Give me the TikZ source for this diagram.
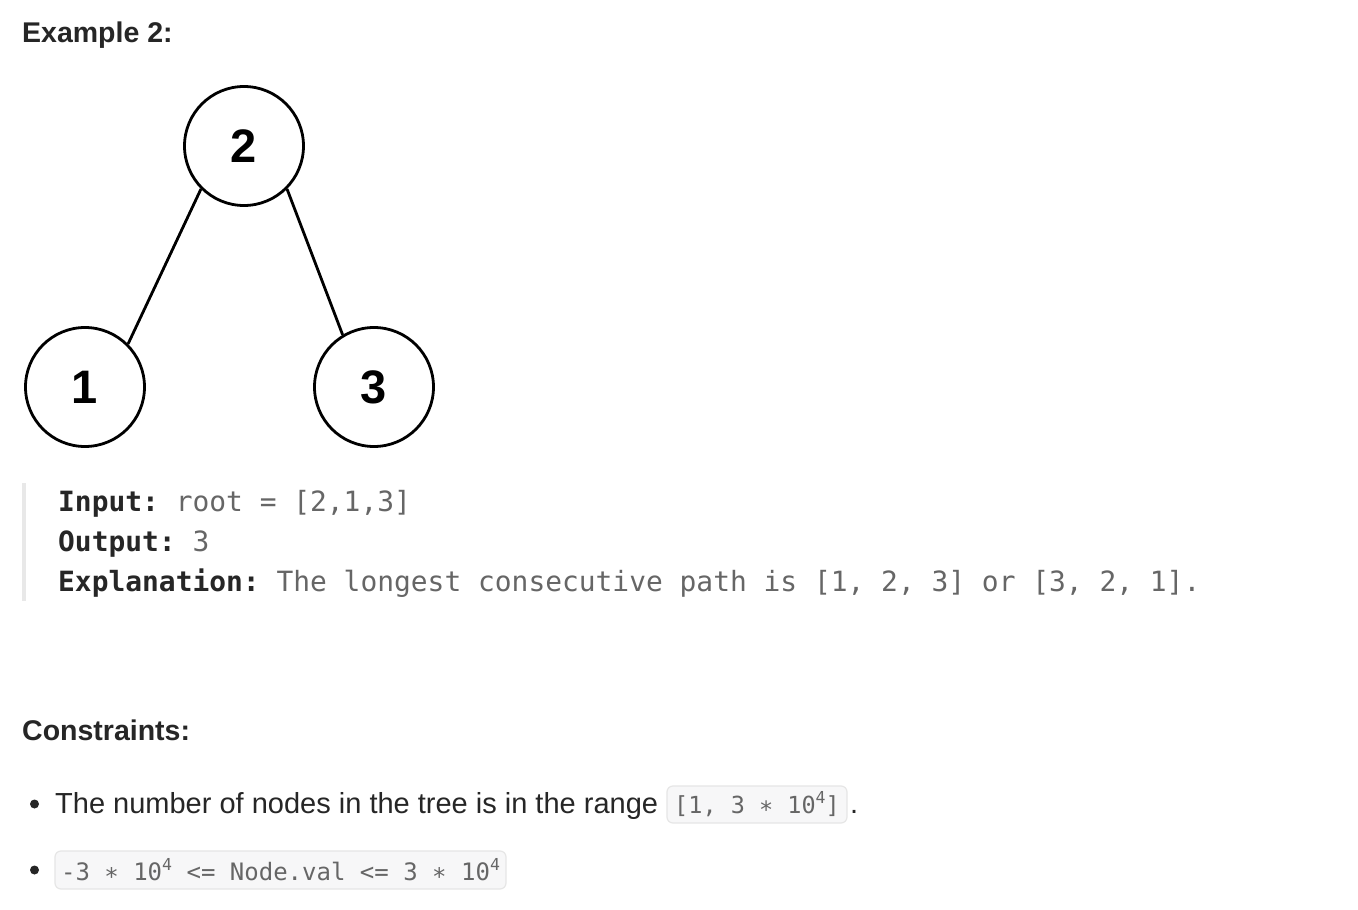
\documentclass[tikz,border=0pt]{standalone}
\usepackage{fontspec}
\setmainfont{Liberation Sans}
\newfontfamily\codefont{DejaVu Sans Mono}
\definecolor{ink}{RGB}{38,38,38}
\definecolor{val}{RGB}{102,102,102}
\definecolor{barc}{RGB}{232,232,232}
\definecolor{boxfill}{RGB}{247,247,248}
\definecolor{boxline}{RGB}{230,230,230}
\newcommand{\supfour}{\raisebox{0.42em}{\fontsize{16.5}{16.5}\selectfont 4}}
\tikzset{
  treenode/.style={circle, draw=black, line width=2.8pt, minimum size=119pt, inner sep=0pt,
    font=\fontsize{47}{47}\selectfont\bfseries},
  edge/.style={line width=2.8pt, draw=black},
  heading/.style={anchor=base west, inner sep=0pt, text=ink, font=\fontsize{28.5}{30}\selectfont\bfseries},
  codeline/.style={anchor=base west, inner sep=0pt, font=\codefont\fontsize{27.9}{30}\selectfont\frenchspacing},
  bodytext/.style={anchor=base west, inner sep=0pt, text=ink, font=\fontsize{29}{31}\selectfont},
  codebox/.style={rounded corners=6pt, draw=boxline, line width=1.2pt, fill=boxfill, inner sep=0pt,
    text=val, font=\codefont\fontsize{23.5}{26}\selectfont\frenchspacing},
  bullet/.style={circle, fill=ink, minimum size=9pt, inner sep=0pt},
}
\begin{document}
\begin{tikzpicture}[x=1pt,y=-1pt]
\useasboundingbox[fill=white] (0,0) rectangle (1358,910);

\node[heading] (ex) at (22,42) {Example 2:};

\node[treenode] (n2) at (244,146) {2};
\node[treenode] (n1) at (85,387) {1};
\node[treenode] (n3) at (374,387) {3};
\draw[edge] (n2.south west) -- (n1.north east);
\draw[edge] (n2.south east) -- (n3.121);

\fill[barc] (22,483) rectangle (25.5,601);
\node[codeline] (inp) at (58,511) {\textcolor{ink}{\bfseries Input:} \textcolor{val}{root = [2,1,3]}};
\node[codeline] (outp) at (58,551) {\textcolor{ink}{\bfseries Output:} \textcolor{val}{3}};
\node[codeline] (expl) at (58,591) {\textcolor{ink}{\bfseries Explanation:} \textcolor{val}{The longest consecutive path is [1, 2, 3] or [3, 2, 1].}};

\node[heading] (cons) at (22,740) {Constraints:};

\node[bullet] (b1) at (34.5,804) {};
\node[bodytext] (t1) at (55,813) {The number of nodes in the tree is in the range};
\node[codebox, minimum width=180pt, minimum height=37pt] (c1) at (757,804.5) {[1, 3 ∗ 10\supfour]};
\node[bodytext] (dot) at (850,813) {.};

\node[bullet] (b2) at (34.5,870) {};
\node[codebox, minimum width=451pt, minimum height=38pt, font=\codefont\fontsize{24}{26}\selectfont] (c2) at (280.5,870) {-3 ∗ 10\supfour{} <= Node.val <= 3 ∗ 10\supfour};
\end{tikzpicture}
\end{document}
